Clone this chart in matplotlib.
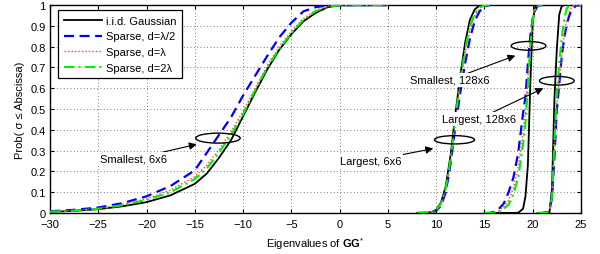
import matplotlib
matplotlib.use("Agg")
import matplotlib.pyplot as plt
from matplotlib.patches import Ellipse
from matplotlib.ticker import FormatStrFormatter

plt.rcParams['font.family'] = ['Liberation Sans', 'DejaVu Sans']
plt.rcParams['mathtext.fontset'] = 'custom'
plt.rcParams['mathtext.rm'] = 'Liberation Sans'
plt.rcParams['mathtext.bf'] = 'Liberation Sans:bold'

# ---------------- data ----------------
series_labels = ["i.i.d. Gaussian", "Sparse, d=\u03bb/2", "Sparse, d=\u03bb", "Sparse, d=2\u03bb"]

# Smallest eigenvalue, 6x6
x_small6 = [-30, -27.5, -25, -22.5, -20, -17.5, -15, -13.75, -12.5, -11.25, -10, -8.75,
            -7.5, -6.25, -5, -3.75, -2.5, -1.25, 0, 5]
small6_iid = [0.005, 0.010, 0.018, 0.032, 0.052, 0.085, 0.14, 0.19, 0.265, 0.35, 0.465, 0.58,
              0.69, 0.785, 0.86, 0.922, 0.962, 0.99, 0.999, 1.0]
small6_half = [0.008, 0.015, 0.026, 0.047, 0.08, 0.13, 0.205, 0.29, 0.375, 0.46, 0.565, 0.66,
               0.755, 0.845, 0.915, 0.97, 0.99, 0.998, 1.0, 1.0]
small6_one = [0.007, 0.012, 0.022, 0.04, 0.068, 0.11, 0.175, 0.23, 0.305, 0.39, 0.49, 0.60,
              0.71, 0.80, 0.875, 0.935, 0.975, 0.995, 1.0, 1.0]
small6_two = [0.006, 0.011, 0.02, 0.037, 0.063, 0.10, 0.163, 0.215, 0.29, 0.375, 0.475, 0.59,
              0.70, 0.79, 0.865, 0.93, 0.97, 0.993, 0.999, 1.0]

# Largest eigenvalue, 6x6
x_large6 = [8.0, 9.0, 9.5, 10.0, 10.5, 11.0, 11.5, 12.0, 12.5, 13.0, 13.5, 14.0, 14.5, 15.0, 15.5]
large6_iid = [0.0, 0.001, 0.004, 0.015, 0.05, 0.13, 0.28, 0.48, 0.66, 0.82, 0.93, 0.98, 0.998, 1.0, 1.0]
large6_half = [0.0, 0.001, 0.003, 0.01, 0.035, 0.10, 0.24, 0.42, 0.58, 0.72, 0.84, 0.925, 0.97, 0.993, 1.0]
large6_one = [0.0, 0.001, 0.004, 0.012, 0.042, 0.115, 0.25, 0.45, 0.62, 0.77, 0.88, 0.95, 0.985, 0.997, 1.0]
large6_two = [0.0, 0.001, 0.004, 0.013, 0.045, 0.12, 0.26, 0.46, 0.64, 0.79, 0.90, 0.96, 0.99, 0.998, 1.0]

# Smallest eigenvalue, 128x6
x_small128 = [15.0, 15.5, 16.0, 16.5, 17.0, 17.5, 18.0, 18.5, 19.0, 19.25, 19.5, 19.75, 20.0,
              20.25, 20.5, 21.0]
small128_iid = [0.0, 0.0, 0.0, 0.0, 0.0, 0.0, 0.0, 0.001, 0.02, 0.08, 0.23, 0.62, 0.92,
                0.99, 0.999, 1.0]
small128_half = [0.0, 0.0, 0.005, 0.02, 0.045, 0.10, 0.17, 0.29, 0.48, 0.56, 0.72, 0.85, 0.935,
                 0.975, 0.995, 1.0]
small128_one = [0.0, 0.0, 0.002, 0.01, 0.03, 0.06, 0.12, 0.22, 0.39, 0.49, 0.65, 0.82, 0.93,
                0.98, 0.997, 1.0]
small128_two = [0.0, 0.0, 0.0, 0.005, 0.02, 0.04, 0.09, 0.17, 0.33, 0.43, 0.60, 0.80, 0.93,
                0.98, 0.997, 1.0]

# Largest eigenvalue, 128x6
x_large128 = [20.5, 21.0, 21.5, 21.75, 22.0, 22.25, 22.5, 22.75, 23.0, 23.25, 23.5, 23.75, 24.0, 24.5, 25.0]
large128_iid = [0.0, 0.0, 0.001, 0.004, 0.12, 0.55, 0.79, 0.955, 0.995, 1.0, 1.0, 1.0, 1.0, 1.0, 1.0]
large128_half = [0.0, 0.0, 0.005, 0.02, 0.07, 0.27, 0.50, 0.62, 0.75, 0.84, 0.90, 0.945, 0.975, 0.998, 1.0]
large128_one = [0.0, 0.0, 0.004, 0.018, 0.075, 0.30, 0.53, 0.64, 0.75, 0.85, 0.92, 0.965, 0.99, 1.0, 1.0]
large128_two = [0.0, 0.0, 0.003, 0.015, 0.08, 0.35, 0.58, 0.72, 0.84, 0.93, 0.98, 0.997, 1.0, 1.0, 1.0]

x_ticks = [-30, -25, -20, -15, -10, -5, 0, 5, 10, 15, 20, 25]
y_ticks = [0, 0.1, 0.2, 0.3, 0.4, 0.5, 0.6, 0.7, 0.8, 0.9, 1.0]

# annotations: (text, text_xy, arrow_tip_xy, ellipse_center, ellipse_w, ellipse_h)
annotations = [
    ("Smallest, 6x6", (-21.4, 0.26), (-14.8, 0.33), (-12.6, 0.36), 4.6, 0.048),
    ("Largest, 6x6", (3.2, 0.25), (9.7, 0.31), (11.9, 0.352), 4.15, 0.04),
    ("Smallest, 128x6", (11.4, 0.64), (18.2, 0.757), (19.57, 0.804), 3.6, 0.042),
    ("Largest, 128x6", (14.4, 0.452), (21.1, 0.60), (22.5, 0.636), 3.6, 0.042),
]

# ---------------- plot ----------------
fig = plt.figure(figsize=(6.0, 2.55), dpi=100)
ax = fig.add_axes([0.0833, 0.161, 0.885, 0.815])

styles = [
    dict(color='black', linestyle='-', linewidth=1.3),
    dict(color='#0000ff', linestyle=(0, (4.5, 2.5)), linewidth=1.6),
    dict(color='#ff4040', linestyle=(0, (1, 1.5)), linewidth=1.0),
    dict(color='#00ee00', linestyle=(0, (5, 2, 1, 2)), linewidth=1.5),
]

groups = [
    (x_small6, [small6_iid, small6_half, small6_one, small6_two]),
    (x_large6, [large6_iid, large6_half, large6_one, large6_two]),
    (x_small128, [small128_iid, small128_half, small128_one, small128_two]),
    (x_large128, [large128_iid, large128_half, large128_one, large128_two]),
]

for gi, (xs, ys_list) in enumerate(groups):
    for si in range(4):
        ax.plot(xs, ys_list[si], label=series_labels[si] if gi == 0 else None,
                zorder=3 + si * 0.1, **styles[si])

ax.set_xlim(-30, 25)
ax.set_ylim(0, 1)
ax.set_xticks(x_ticks)
ax.set_yticks(y_ticks)
ax.yaxis.set_major_formatter(FormatStrFormatter('%g'))
ax.tick_params(direction='in', top=True, right=True, labelsize=8, length=3, width=0.8)
ax.tick_params(axis='x', pad=4)
ax.tick_params(axis='y', pad=3)
ax.grid(True, linestyle=(0, (1, 3)), color='#555555', linewidth=0.6)
for s in ax.spines.values():
    s.set_linewidth(1.0)

ax.set_xlabel(r"Eigenvalues of $\mathbf{GG}^{*}$", fontsize=8, labelpad=5)
ax.set_ylabel("Prob( \u03c3 \u2264 Abscissa)", fontsize=8, labelpad=4)

for text, txy, tip, ec, ew, eh in annotations:
    ax.add_patch(Ellipse(ec, ew, eh, fill=False, edgecolor='black', linewidth=1.0, zorder=6))
    ax.annotate(text, xy=tip, xytext=txy, fontsize=8, ha='center', va='center', zorder=7,
                bbox=dict(boxstyle='square,pad=0.15', fc='white', ec='none'),
                arrowprops=dict(arrowstyle='-|>', color='black', lw=0.8, mutation_scale=11,
                                shrinkA=0, shrinkB=0))

leg = ax.legend(loc='upper left', bbox_to_anchor=(0.015, 0.975), fontsize=8, frameon=True,
                fancybox=False, edgecolor='black', framealpha=1, handlelength=3.5,
                handletextpad=0.3, borderpad=0.5, labelspacing=0.5, borderaxespad=0)
leg.get_frame().set_linewidth(0.9)
leg.set_zorder(10)

fig.savefig("out.png", dpi=100)
